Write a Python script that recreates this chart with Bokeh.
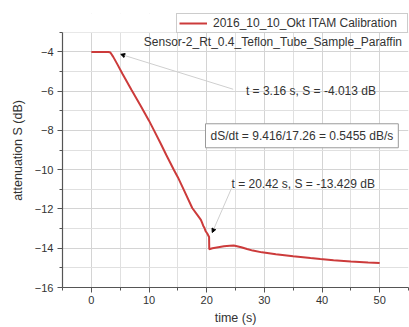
from bokeh.plotting import figure
from bokeh.models import (Range1d, FixedTicker, Label, Arrow, NormalHead, Legend,
                          LegendItem, ColumnDataSource, BoxAnnotation)
from bokeh.embed import file_html
from bokeh.resources import INLINE

# ---- data ----
time_s = [0, 1, 2, 3, 3.3, 3.8, 4.5, 5.37, 7, 8.5, 10, 11, 12, 13, 14.3, 15, 16,
          17.5, 18.5, 19.0, 19.2, 19.4, 19.6, 19.8, 20.1, 20.42, 20.45, 21, 22,
          23, 24, 24.7, 26, 27, 28, 29.6, 32, 35, 38, 39.7, 42, 45, 48, 50]
atten_db = [-4.0, -4.0, -4.0, -4.0, -4.03, -4.25, -4.62, -5.1, -5.95, -6.72, -7.5,
            -8.07, -8.65, -9.25, -10.0, -10.38, -11.0, -11.95, -12.35, -12.55,
            -12.7, -12.85, -12.95, -13.12, -13.25, -13.43, -14.05, -14.0, -13.95,
            -13.9, -13.87, -13.86, -13.95, -14.04, -14.12, -14.21, -14.3, -14.41,
            -14.5, -14.55, -14.61, -14.67, -14.72, -14.75]

series_name = "2016_10_10_Okt ITAM Calibration"
subtitle = "Sensor-2_Rt_0.4_Teflon_Tube_Sample_Paraffin"
note1 = "t = 3.16 s, S = -4.013 dB"
note2 = "t = 20.42 s, S = -13.429 dB"
slope_note = "dS/dt = 9.416/17.26 = 0.5455 dB/s"
x_ticks = [0, 10, 20, 30, 40, 50]
y_ticks = [-16, -14, -12, -10, -8, -6, -4]
y_axis_span = (-16, -3)

FONT = "Liberation Sans"
TXT = "#333333"
AX = "#555555"

p = figure(width=409, height=327, output_backend="svg", toolbar_location=None,
           x_range=Range1d(-5, 55), y_range=Range1d(-16, -2.04),
           min_border_left=62, min_border_right=1, min_border_top=13,
           min_border_bottom=38)
p.outline_line_color = None
p.background_fill_color = "white"

src = ColumnDataSource(dict(t=time_s, s=atten_db))
r = p.line("t", "s", source=src, line_color="#cc3b3b", line_width=2)

# axes
p.xaxis.ticker = FixedTicker(ticks=x_ticks, minor_ticks=[-5, 5, 15, 25, 35, 45, 55])
p.yaxis.ticker = FixedTicker(ticks=y_ticks,
                             minor_ticks=[-15, -13, -11, -9, -7, -5, -3])
p.yaxis.bounds = y_axis_span
p.xaxis.axis_label = "time (s)"
p.yaxis.axis_label = "attenuation S (dB)"
for ax in (p.xaxis, p.yaxis):
    ax.axis_line_color = AX
    ax.axis_line_width = 1.2
    ax.major_tick_line_color = AX
    ax.minor_tick_line_color = AX
    ax.major_tick_out = 5
    ax.major_tick_in = 0
    ax.minor_tick_out = 3
    ax.minor_tick_in = 0
    ax.major_label_text_font = FONT
    ax.major_label_text_font_size = "11px"
    ax.major_label_text_color = TXT
    ax.axis_label_text_font = FONT
    ax.axis_label_text_font_size = "12.5px"
    ax.axis_label_text_font_style = "normal"
    ax.axis_label_text_color = TXT
p.xaxis.major_label_standoff = 3
p.xaxis.axis_label_standoff = 4
p.yaxis.major_label_standoff = 4
p.yaxis.axis_label_standoff = 7

for g in (p.xgrid, p.ygrid):
    g.grid_line_color = "#d4d4d4"
    g.grid_line_width = 1
    g.minor_grid_line_color = "#e0e0e0"
    g.minor_grid_line_width = 1
p.xgrid.ticker = p.xaxis.ticker
p.ygrid.ticker = p.yaxis.ticker

# white cover above the axis span (grid stops at top of axis)
p.add_layout(BoxAnnotation(bottom=y_axis_span[1], fill_color="white",
                           fill_alpha=1, line_color=None, level="underlay"))

# legend at top right
legend = Legend(items=[LegendItem(label=series_name, renderers=[r])],
                location="top_right", orientation="vertical",
                border_line_color="#9a9a9a", border_line_width=1,
                background_fill_color="white", background_fill_alpha=1,
                label_text_font=FONT, label_text_font_size="12px",
                label_text_color=TXT, glyph_width=28, glyph_height=10,
                label_height=10, label_width=192, label_standoff=6,
                padding=2, margin=0, spacing=0)
p.add_layout(legend)

# texts
p.add_layout(Label(x=9.1, y=-3.5, text=subtitle, text_font=FONT,
                   text_font_size="12px", text_color=TXT,
                   text_baseline="middle"))
p.add_layout(Label(x=26.8, y=-5.99, text=note1, text_font=FONT,
                   text_font_size="12px", text_color=TXT,
                   text_baseline="middle"))
p.add_layout(Label(x=24.3, y=-10.75, text=note2, text_font=FONT,
                   text_font_size="12px", text_color=TXT,
                   text_baseline="middle"))
p.add_layout(Label(x=19.8, y=-8.27, text=slope_note, text_font=FONT,
                   text_font_size="12px", text_color=TXT,
                   text_baseline="middle", padding=5,
                   border_line_color="#9a9a9a", border_line_width=1,
                   background_fill_color="white"))

# arrows
p.add_layout(Arrow(x_start=24.6, y_start=-5.9, x_end=5.1, y_end=-4.12,
                   line_color="#cfcfcf", line_width=1,
                   end=NormalHead(size=4, fill_color="black", line_color="black")))
p.add_layout(Arrow(x_start=24.3, y_start=-10.95, x_end=20.97, y_end=-13.2,
                   line_color="#cfcfcf", line_width=1,
                   end=NormalHead(size=4, fill_color="black", line_color="black")))

open("out.html", "w").write(file_html(p, INLINE))
